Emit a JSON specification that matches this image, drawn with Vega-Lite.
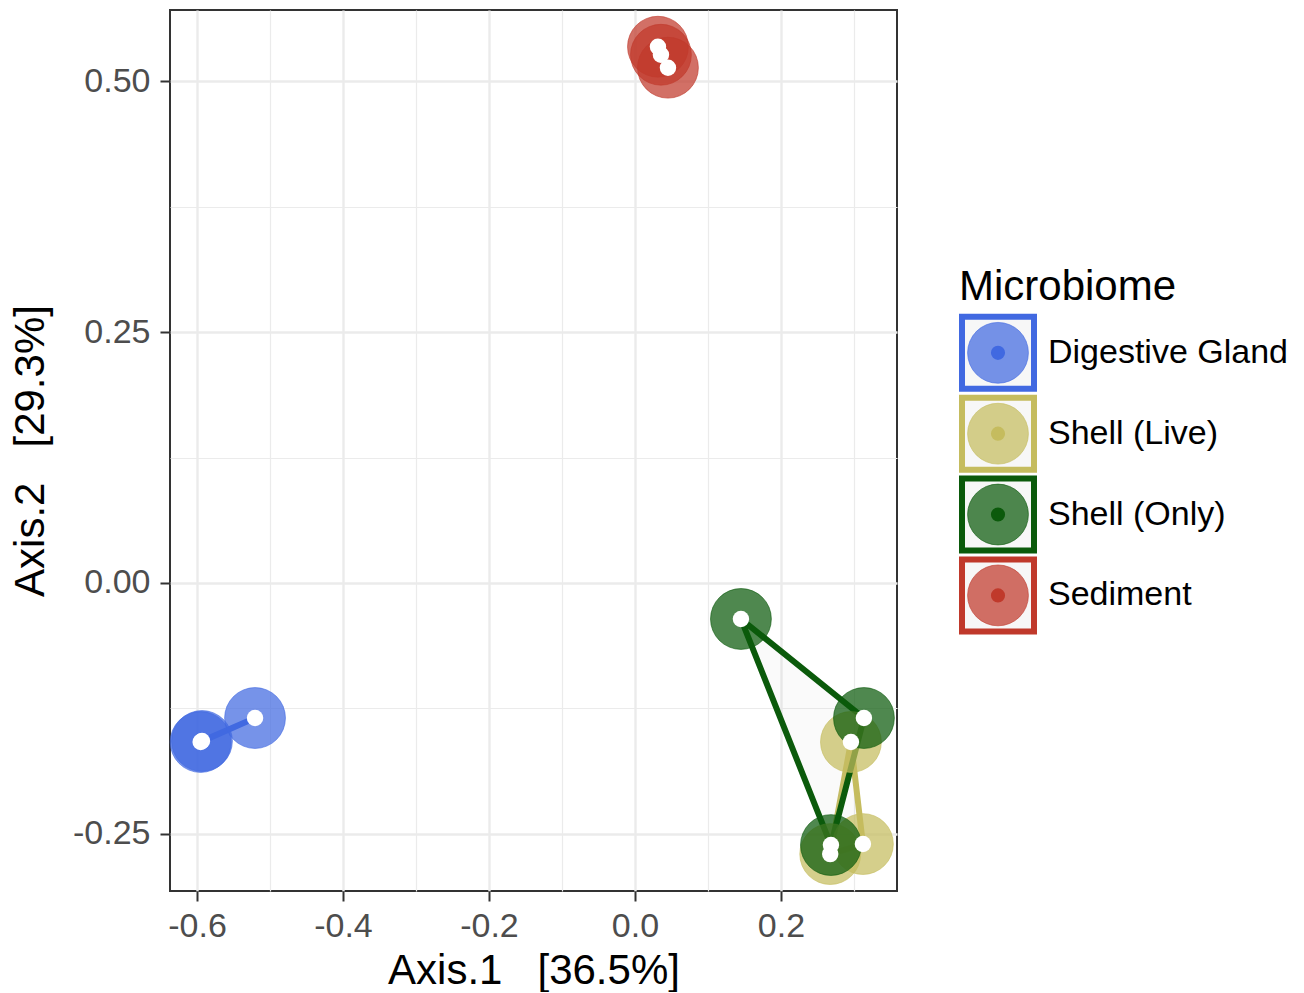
{
  "$schema": "https://vega.github.io/schema/vega-lite/v6.json",
  "background": "white",
  "padding": {"left": 8, "top": 9, "right": 5, "bottom": 0},
  "config": {"font": "Liberation Sans", "view": {"stroke": null}},
  "bounds": "flush",
  "center": true,
  "spacing": 62,
  "datasets": {
    "points": [
      {"group": "Digestive Gland", "x": -0.5932, "y": -0.1575, "hull_order": 1},
      {"group": "Digestive Gland", "x": -0.5950, "y": -0.1585, "hull_order": 2},
      {"group": "Digestive Gland", "x": -0.5205, "y": -0.1346, "hull_order": 3},
      {"group": "Shell (Live)", "x": 0.2959, "y": -0.1585, "hull_order": 1},
      {"group": "Shell (Live)", "x": 0.3123, "y": -0.2602, "hull_order": 2},
      {"group": "Shell (Live)", "x": 0.2675, "y": -0.2702, "hull_order": 3},
      {"group": "Shell (Only)", "x": 0.1452, "y": -0.0359, "hull_order": 1},
      {"group": "Shell (Only)", "x": 0.3137, "y": -0.1346, "hull_order": 2},
      {"group": "Shell (Only)", "x": 0.2685, "y": -0.2612, "hull_order": 3},
      {"group": "Sediment", "x": 0.0315, "y": 0.5344, "hull_order": 1},
      {"group": "Sediment", "x": 0.0356, "y": 0.5264, "hull_order": 2},
      {"group": "Sediment", "x": 0.0452, "y": 0.5135, "hull_order": 3}
    ],
    "legend": [
      {"group": "Digestive Gland"},
      {"group": "Shell (Live)"},
      {"group": "Shell (Only)"},
      {"group": "Sediment"}
    ]
  },
  "hconcat": [
    {
      "width": 727,
      "height": 881,
      "view": {"stroke": "#333333", "strokeWidth": 2},
      "data": {"name": "points"},
      "encoding": {
        "x": {
          "field": "x", "type": "quantitative",
          "scale": {"domain": [-0.637, 0.359], "nice": false, "zero": false},
          "axis": {
            "title": "Axis.1\u00a0\u00a0\u00a0[36.5%]",
            "values": [-0.6, -0.5, -0.4, -0.3, -0.2, -0.1, 0, 0.1, 0.2, 0.3],
            "format": ".1f",
            "labelExpr": "abs(round(datum.value*10)) % 2 == 1 ? '' : replace(datum.label, '\u2212', '-')",
            "domain": false,
            "grid": true,
            "gridColor": "#ebebeb",
            "gridWidth": {"condition": {"test": "abs(round(datum.value*10)) % 2 == 1", "value": 1.2}, "value": 2.4},
            "tickColor": "#333333",
            "tickWidth": 2,
            "tickSize": 10,
            "tickOpacity": {"condition": {"test": "abs(round(datum.value*10)) % 2 == 1", "value": 0}, "value": 1},
            "labelFontSize": 34,
            "labelColor": "#4d4d4d",
            "labelPadding": 8,
            "labelFlush": false,
            "labelOverlap": false,
            "titleFontSize": 42,
            "titleFontWeight": "normal",
            "titleColor": "#000000",
            "titlePadding": 7
          }
        },
        "y": {
          "field": "y", "type": "quantitative",
          "scale": {"domain": [-0.307, 0.571], "nice": false, "zero": false},
          "axis": {
            "title": "Axis.2\u00a0\u00a0\u00a0[29.3%]",
            "values": [-0.25, -0.125, 0, 0.125, 0.25, 0.375, 0.5],
            "format": ".2f",
            "labelExpr": "abs(round(datum.value*8)) % 2 == 1 ? '' : replace(datum.label, '\u2212', '-')",
            "domain": false,
            "grid": true,
            "gridColor": "#ebebeb",
            "gridWidth": {"condition": {"test": "abs(round(datum.value*8)) % 2 == 1", "value": 1.2}, "value": 2.4},
            "tickColor": "#333333",
            "tickWidth": 2,
            "tickSize": 10,
            "tickOpacity": {"condition": {"test": "abs(round(datum.value*8)) % 2 == 1", "value": 0}, "value": 1},
            "labelFontSize": 34,
            "labelColor": "#4d4d4d",
            "labelPadding": 10,
            "labelFlush": false,
            "labelOverlap": false,
            "titleFontSize": 42,
            "titleFontWeight": "normal",
            "titleColor": "#000000",
            "titlePadding": 20
          }
        }
      },
      "layer": [
        {
          "mark": {"type": "line", "interpolate": "linear-closed", "strokeWidth": 6, "strokeJoin": "round", "strokeCap": "round", "fill": "#bdbdbd", "fillOpacity": 0.08},
          "encoding": {
            "stroke": {"field": "group", "type": "nominal",
              "scale": {"domain": ["Digestive Gland", "Shell (Live)", "Shell (Only)", "Sediment"], "range": ["#4169E1", "#C5BC5E", "#0B5A0B", "#C0392B"]},
              "legend": null},
            "detail": {"field": "group"},
            "order": {"field": "hull_order", "type": "quantitative"}
          }
        },
        {
          "mark": {"type": "point", "shape": "circle", "filled": true, "size": 3700, "fillOpacity": 0.72, "strokeWidth": 1, "strokeOpacity": 0.6},
          "encoding": {
            "fill": {"field": "group", "type": "nominal",
              "scale": {"domain": ["Digestive Gland", "Shell (Live)", "Shell (Only)", "Sediment"], "range": ["#4169E1", "#C5BC5E", "#0B5A0B", "#C0392B"]},
              "legend": null},
            "stroke": {"field": "group", "type": "nominal",
              "scale": {"domain": ["Digestive Gland", "Shell (Live)", "Shell (Only)", "Sediment"], "range": ["#4169E1", "#C5BC5E", "#0B5A0B", "#C0392B"]},
              "legend": null}
          }
        },
        {
          "mark": {"type": "point", "shape": "circle", "filled": true, "size": 270, "color": "#ffffff", "opacity": 1}
        }
      ]
    },
    {
      "width": 78,
      "height": 566,
      "view": {"stroke": null},
      "layer": [
        {
          "data": {"values": [{"label": "Microbiome"}]},
          "mark": {"type": "text", "align": "left", "baseline": "alphabetic", "dx": -39, "dy": 28, "fontSize": 42, "color": "#000000"},
          "encoding": {
            "y": {"field": "label", "type": "nominal",
              "scale": {"type": "band", "domain": ["Microbiome", "Digestive Gland", "Shell (Live)", "Shell (Only)", "Sediment"], "paddingInner": 0, "paddingOuter": 1, "align": 0.396},
              "axis": null},
            "text": {"field": "label"}
          }
        },
        {
          "data": {"name": "legend"},
          "mark": {"type": "point", "shape": "square", "size": 5184, "strokeWidth": 6, "fill": "#f7f7f7", "fillOpacity": 1, "opacity": 1},
          "encoding": {
            "y": {"field": "group", "type": "nominal",
              "scale": {"type": "band", "domain": ["Microbiome", "Digestive Gland", "Shell (Live)", "Shell (Only)", "Sediment"], "paddingInner": 0, "paddingOuter": 1, "align": 0.396},
              "axis": null},
            "stroke": {"field": "group", "type": "nominal",
              "scale": {"domain": ["Digestive Gland", "Shell (Live)", "Shell (Only)", "Sediment"], "range": ["#4169E1", "#C5BC5E", "#0B5A0B", "#C0392B"]},
              "legend": null}
          }
        },
        {
          "data": {"name": "legend"},
          "mark": {"type": "point", "shape": "circle", "filled": true, "size": 3700, "fillOpacity": 0.72, "strokeWidth": 1, "strokeOpacity": 0.6},
          "encoding": {
            "y": {"field": "group", "type": "nominal",
              "scale": {"type": "band", "domain": ["Microbiome", "Digestive Gland", "Shell (Live)", "Shell (Only)", "Sediment"], "paddingInner": 0, "paddingOuter": 1, "align": 0.396},
              "axis": null},
            "fill": {"field": "group", "type": "nominal",
              "scale": {"domain": ["Digestive Gland", "Shell (Live)", "Shell (Only)", "Sediment"], "range": ["#4169E1", "#C5BC5E", "#0B5A0B", "#C0392B"]},
              "legend": null},
            "stroke": {"field": "group", "type": "nominal",
              "scale": {"domain": ["Digestive Gland", "Shell (Live)", "Shell (Only)", "Sediment"], "range": ["#4169E1", "#C5BC5E", "#0B5A0B", "#C0392B"]},
              "legend": null}
          }
        },
        {
          "data": {"name": "legend"},
          "mark": {"type": "point", "shape": "circle", "filled": true, "size": 200, "opacity": 1},
          "encoding": {
            "y": {"field": "group", "type": "nominal",
              "scale": {"type": "band", "domain": ["Microbiome", "Digestive Gland", "Shell (Live)", "Shell (Only)", "Sediment"], "paddingInner": 0, "paddingOuter": 1, "align": 0.396},
              "axis": null},
            "fill": {"field": "group", "type": "nominal",
              "scale": {"domain": ["Digestive Gland", "Shell (Live)", "Shell (Only)", "Sediment"], "range": ["#4169E1", "#C5BC5E", "#0B5A0B", "#C0392B"]},
              "legend": null}
          }
        },
        {
          "data": {"name": "legend"},
          "mark": {"type": "text", "align": "left", "baseline": "middle", "dx": 50, "fontSize": 34, "color": "#000000"},
          "encoding": {
            "y": {"field": "group", "type": "nominal",
              "scale": {"type": "band", "domain": ["Microbiome", "Digestive Gland", "Shell (Live)", "Shell (Only)", "Sediment"], "paddingInner": 0, "paddingOuter": 1, "align": 0.396},
              "axis": null},
            "text": {"field": "group"}
          }
        }
      ]
    }
  ]
}
